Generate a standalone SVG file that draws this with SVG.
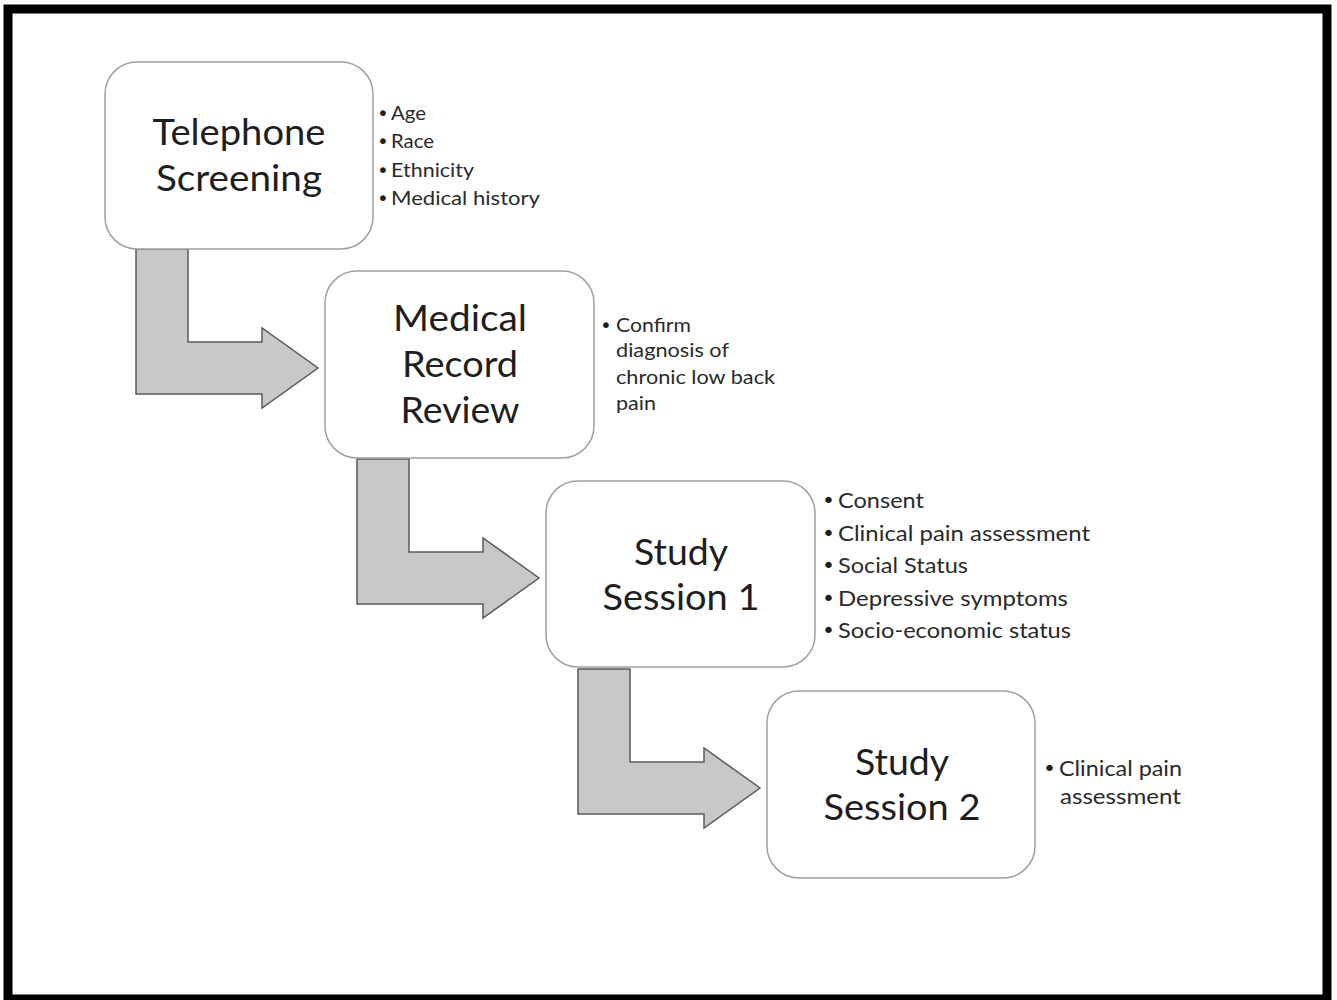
<svg xmlns="http://www.w3.org/2000/svg" width="1337" height="1000" viewBox="0 0 1337 1000">
<style>
.frame{fill:#fff;stroke:#000;stroke-width:9}
.box{fill:#fff;stroke:#a0a0a0;stroke-width:1.5}
.arrow{fill:#c8c8c8;stroke:#5a5a5a;stroke-width:1.5;stroke-linejoin:miter}
.title{font-family:Lato,"Open Sans",sans-serif;font-size:37px;fill:#1e1e1e;text-anchor:middle}
.item{font-family:Lato,"Open Sans",sans-serif;fill:#2a2a2a}
.b1{font-size:20px}
.b3{font-size:22px}
.dot{font-family:"DejaVu Sans",sans-serif;fill:#1e1e1e}
</style>
<rect class="frame" x="8" y="9" width="1319" height="990"/>
<g id="connectors">
<polygon class="arrow" points="136,249 188,249 188,342 262,342 262,328 318,368 262,408 262,394 136,394"/>
<polygon class="arrow" points="357,459 409,459 409,552 483,552 483,538 539,578 483,618 483,604 357,604"/>
<polygon class="arrow" points="578,669 630,669 630,762 704,762 704,748 760,788 704,828 704,814 578,814"/>
</g>
<g id="telephone-screening">
<rect class="box" x="105" y="62" width="268" height="187" rx="32"/>
<text class="title" x="239" y="145" textLength="173" lengthAdjust="spacingAndGlyphs">Telephone</text>
<text class="title" x="239" y="191" textLength="166" lengthAdjust="spacingAndGlyphs">Screening</text>
<text class="dot b1" x="377" y="120">•</text>
<text class="item b1" x="391" y="120" textLength="35" lengthAdjust="spacingAndGlyphs">Age</text>
<text class="dot b1" x="377" y="148">•</text>
<text class="item b1" x="391" y="148" textLength="43" lengthAdjust="spacingAndGlyphs">Race</text>
<text class="dot b1" x="377" y="177">•</text>
<text class="item b1" x="391" y="177" textLength="83" lengthAdjust="spacingAndGlyphs">Ethnicity</text>
<text class="dot b1" x="377" y="205">•</text>
<text class="item b1" x="391" y="205" textLength="149" lengthAdjust="spacingAndGlyphs">Medical history</text>
</g>
<g id="medical-record-review">
<rect class="box" x="325" y="271" width="269" height="187" rx="32"/>
<text class="title" x="460" y="331" textLength="134" lengthAdjust="spacingAndGlyphs">Medical</text>
<text class="title" x="460" y="377" textLength="116" lengthAdjust="spacingAndGlyphs">Record</text>
<text class="title" x="460" y="423" textLength="119" lengthAdjust="spacingAndGlyphs">Review</text>
<text class="dot b1" x="600" y="332">•</text>
<text class="item b1" x="616" y="332" textLength="75" lengthAdjust="spacingAndGlyphs">Confirm</text>
<text class="item b1" x="616" y="357" textLength="113" lengthAdjust="spacingAndGlyphs">diagnosis of</text>
<text class="item b1" x="616" y="384" textLength="159" lengthAdjust="spacingAndGlyphs">chronic low back</text>
<text class="item b1" x="616" y="410" textLength="40" lengthAdjust="spacingAndGlyphs">pain</text>
</g>
<g id="study-session-1">
<rect class="box" x="546" y="481" width="269" height="186" rx="32"/>
<text class="title" x="681" y="565" textLength="94" lengthAdjust="spacingAndGlyphs">Study</text>
<text class="title" x="681" y="610" textLength="157" lengthAdjust="spacingAndGlyphs">Session 1</text>
<text class="dot b3" x="822" y="508">•</text>
<text class="item b3" x="838" y="508" textLength="86" lengthAdjust="spacingAndGlyphs">Consent</text>
<text class="dot b3" x="822" y="541">•</text>
<text class="item b3" x="838" y="541" textLength="252" lengthAdjust="spacingAndGlyphs">Clinical pain assessment</text>
<text class="dot b3" x="822" y="573">•</text>
<text class="item b3" x="838" y="573" textLength="130" lengthAdjust="spacingAndGlyphs">Social Status</text>
<text class="dot b3" x="822" y="606">•</text>
<text class="item b3" x="838" y="606" textLength="230" lengthAdjust="spacingAndGlyphs">Depressive symptoms</text>
<text class="dot b3" x="822" y="638">•</text>
<text class="item b3" x="838" y="638" textLength="233" lengthAdjust="spacingAndGlyphs">Socio-economic status</text>
</g>
<g id="study-session-2">
<rect class="box" x="767" y="691" width="268" height="187" rx="32"/>
<text class="title" x="902" y="775" textLength="94" lengthAdjust="spacingAndGlyphs">Study</text>
<text class="title" x="902" y="820" textLength="157" lengthAdjust="spacingAndGlyphs">Session 2</text>
<text class="dot b3" x="1043" y="776">•</text>
<text class="item b3" x="1059" y="776" textLength="123" lengthAdjust="spacingAndGlyphs">Clinical pain</text>
<text class="item b3" x="1060" y="804" textLength="121" lengthAdjust="spacingAndGlyphs">assessment</text>
</g>
</svg>
